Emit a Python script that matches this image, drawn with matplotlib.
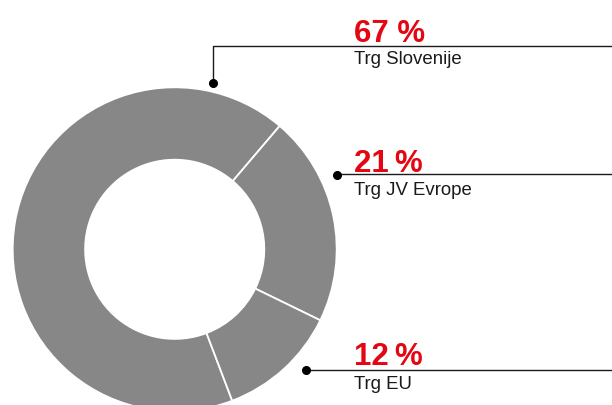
import matplotlib
matplotlib.use("Agg")
import matplotlib.pyplot as plt

# ---- data ----
categories = ["Trg Slovenije", "Trg JV Evrope", "Trg EU"]
values = [67, 21, 12]
pct_labels = ["67 %", "21\u2009%", "12\u2009%"]

# ---- layout (pixels, from top-left of 612x406 figure) ----
W, H = 612, 406
CX, CY, R = 174.7, 250.3, 162.0
dots = [(212.7, 84.3), (337.3, 175.7), (306.0, 370.5)]
line_y = [47.3, 175.0, 370.5]
pct_base = [41.7, 172.3, 365.0]
lab_base = [64.3, 195.0, 389.0]
text_x = 354.0

RED = "#e30613"
GREY = "#878787"

plt.rcParams['font.family'] = ['Liberation Sans', 'DejaVu Sans']

fig = plt.figure(figsize=(W / 100, H / 100), dpi=100)
ax = fig.add_axes([0, 0, 1, 1])


def px(x, y):
    return (x - CX) / R, (CY - y) / R


ax.pie(values, radius=1.0, startangle=90 - 159.2, counterclock=False,
       colors=[GREY] * len(values),
       wedgeprops=dict(width=0.447, edgecolor='white', linewidth=1.3))

ax.set_aspect('auto')
ax.set_xlim(-CX / R, (W - CX) / R)
ax.set_ylim(-(H - CY) / R, CY / R)
ax.axis('off')

for i, (cat, pl) in enumerate(zip(categories, pct_labels)):
    dx, dy = dots[i]
    ly = line_y[i]
    if i == 0:
        xs = [px(dx, dy)[0], px(dx, ly)[0], px(W, ly)[0]]
        ys = [px(dx, dy)[1], px(dx, ly)[1], px(W, ly)[1]]
    else:
        xs = [px(dx, ly)[0], px(W, ly)[0]]
        ys = [px(dx, ly)[1], px(W, ly)[1]]
    ax.plot(xs, ys, color='#1a1a1a', lw=1.0, solid_capstyle='butt', clip_on=False)
    ax.plot(*px(dx, dy), 'o', color='black', ms=5.5, clip_on=False)
    tx, ty = px(text_x, pct_base[i])
    ax.text(tx, ty, pl, color=RED, fontsize=22.5, fontweight='bold',
            ha='left', va='baseline')
    tx, ty = px(text_x, lab_base[i])
    ax.text(tx, ty, cat, color='#1a1a1a', fontsize=13.4,
            ha='left', va='baseline')

fig.savefig("out.png", dpi=100)
